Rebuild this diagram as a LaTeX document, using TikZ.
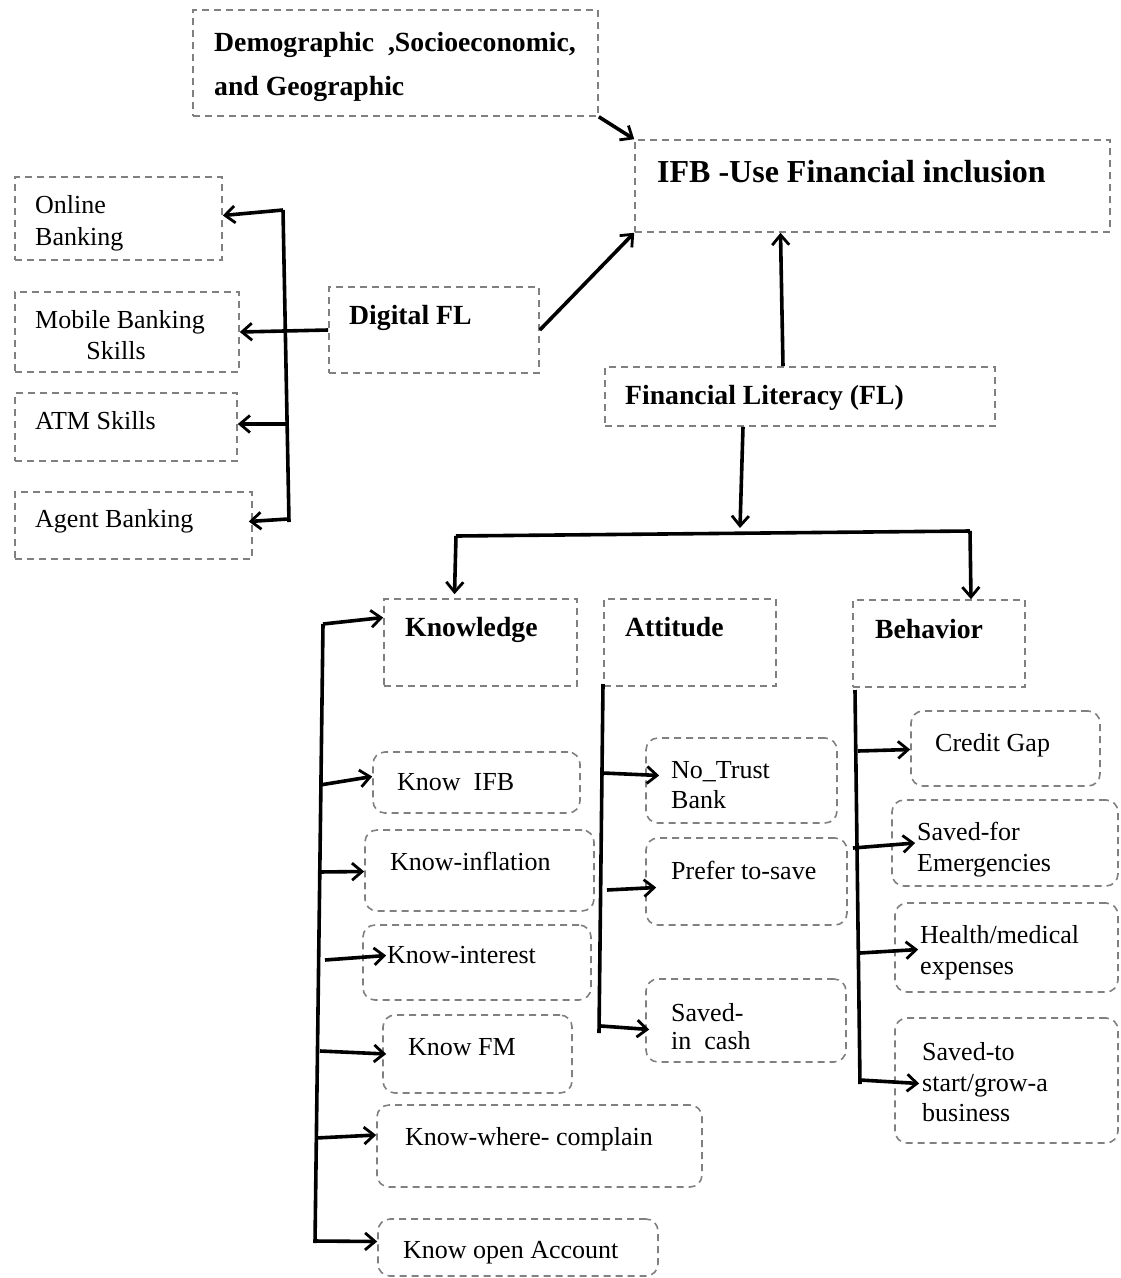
\documentclass[tikz,border=0pt]{standalone}
\usepackage{fontspec}
\setmainfont{Liberation Serif}
\usetikzlibrary{arrows.meta,calc}
\definecolor{dashgray}{RGB}{128,128,128}
\newcommand\mybox[6][]{\node[dbox,#1,minimum width={#4-#2},minimum height={#5-#3}] (#6) at ({(#2+#4)/2},{(#3+#5)/2}) {};}
\begin{document}
\begin{tikzpicture}[x=1pt,y=-1pt,
  dbox/.style={draw=dashgray,line width=1.6pt,dash pattern=on 7pt off 5pt,inner sep=0pt},
  rbox/.style={rounded corners=12pt},
  txt/.style={inner sep=0pt,anchor=base west,font=\fontsize{26}{30}\selectfont},
  btxt/.style={inner sep=0pt,anchor=base west,font=\bfseries\fontsize{27.7}{33}\selectfont},
  conn/.style={line width=3.6pt,black},
  arr/.style={conn,-{Straight Barb[length=10pt,width=17pt,line width=2.8pt]}}]
\useasboundingbox (0,0) rectangle (1120,1278);
% boxes
\mybox{193}{10}{598}{116}{demo}
\mybox{635}{140}{1110}{232}{ifb}
\mybox{15}{177}{222}{260}{online}
\mybox{15}{292}{239}{372}{mobile}
\mybox{15}{393}{237}{461}{atm}
\mybox{15}{492}{252}{559}{agent}
\mybox{329}{287}{539}{373}{dig}
\mybox{605}{367}{995}{426}{fl}
\mybox{384}{599}{577}{686}{know}
\mybox{604}{599}{776}{686}{att}
\mybox{853}{600}{1025}{687}{beh}
\mybox[rbox]{373}{752}{580}{813}{kifb}
\mybox[rbox]{365}{830}{594}{911}{kinf}
\mybox[rbox]{363}{925}{591}{1000}{kint}
\mybox[rbox]{383}{1015}{572}{1093}{kfm}
\mybox[rbox]{377}{1105}{702}{1187}{kwc}
\mybox[rbox]{378}{1219}{658}{1276}{koa}
\mybox[rbox]{646}{738}{837}{823}{ntb}
\mybox[rbox]{646}{838}{847}{925}{pts}
\mybox[rbox]{646}{979}{846}{1062}{sic}
\mybox[rbox]{911}{711}{1100}{786}{cg}
\mybox[rbox]{892}{800}{1118}{886}{sfe}
\mybox[rbox]{895}{903}{1118}{992}{hme}
\mybox[rbox]{895}{1018}{1118}{1143}{sts}
% texts
\node[btxt] (tdemo1) at (214,51) {Demographic\ \ ,Socioeconomic,};
\node[btxt] (tdemo2) at (214,95) {and Geographic};
\node[btxt,font=\bfseries\fontsize{32}{38}\selectfont] (tifb) at (657,182) {IFB -Use Financial inclusion};
\node[txt] (tonl1) at (35,213) {Online};
\node[txt] (tonl2) at (35,245) {Banking};
\node[txt] (tmob1) at (35,328) {Mobile Banking};
\node[txt,anchor=base] (tmob2) at (116,359) {Skills};
\node[txt] (tatm) at (35,429) {ATM Skills};
\node[txt] (tagt) at (35,527) {Agent Banking};
\node[btxt] (tdig) at (349,324) {Digital FL};
\node[btxt] (tfl) at (625,404) {Financial Literacy (FL)};
\node[btxt] (tknow) at (405,636) {Knowledge};
\node[btxt] (tatt) at (625,636) {Attitude};
\node[btxt] (tbeh) at (875,638) {Behavior};
\node[txt] (tkifb) at (397,790) {Know\ \ IFB};
\node[txt] (tkinf) at (390,870) {Know-inflation};
\node[txt] (tkint) at (387,963) {Know-interest};
\node[txt] (tkfm) at (408,1055) {Know FM};
\node[txt] (tkwc) at (405,1145) {Know-where- complain};
\node[txt] (tkoa) at (403,1258) {Know open Account};
\node[txt] (tntb1) at (671,778) {No\_Trust};
\node[txt] (tntb2) at (671,808) {Bank};
\node[txt] (tpts) at (671,879) {Prefer to-save};
\node[txt] (tsic1) at (671,1021) {Saved-};
\node[txt] (tsic2) at (671,1049) {in\ \ cash};
\node[txt] (tcg) at (935,751) {Credit Gap};
\node[txt] (tsfe1) at (917,840) {Saved-for};
\node[txt] (tsfe2) at (917,871) {Emergencies};
\node[txt] (thme1) at (920,943) {Health/medical};
\node[txt] (thme2) at (920,974) {expenses};
\node[txt] (tsts1) at (922,1060) {Saved-to};
\node[txt] (tsts2) at (922,1091) {start/grow-a};
\node[txt] (tsts3) at (922,1121) {business};
% top connectors
\draw[arr] (demo.south east) -- (ifb.north west);
\draw[arr] (dig.east) -- (ifb.south west);
\draw[arr] ($(fl.north)+(-17,0)$) -- ($(ifb.south)+(-92,0)$);
\coordinate (flend) at (740,528);
\draw[arr] ($(fl.south)+(-57,0)$) -- (flend);
\coordinate (barL) at (456,536);
\coordinate (barR) at (970,531);
\draw[conn] (barL) -- (barR);
\draw[arr] (barL) -- ($(know.north)+(-26,-4)$);
\draw[arr] (barR) -- ($(beh.north)+(32,0)$);
% digital bracket
\coordinate (dtop) at (283,210);
\coordinate (dbot) at (289,522);
\coordinate (datm) at (287,424);
\coordinate (dagt) at (288,519);
\draw[conn] (dtop) -- (dbot);
\draw[arr] (dtop) -- ($(online.east)+(0,-3)$);
\draw[arr] (dig.west) -- (mobile.east);
\draw[arr] (datm) -- ($(atm.east)+(0,-3)$);
\draw[arr] (dagt) -- ($(agent.east)+(-4,-4)$);
% knowledge bracket
\coordinate (ktop) at (323,624);
\coordinate (kbot) at (315,1243);
\coordinate (k1) at (320,785);
\coordinate (k2) at (318,872);
\coordinate (k3) at (325,960);
\coordinate (k4) at (320,1051);
\coordinate (k5) at (316,1138);
\coordinate (k6) at (314,1241);
\draw[conn] (ktop) -- (kbot);
\draw[arr] (ktop) -- ($(know.west)+(0,-25)$);
\draw[arr] (k1) -- ($(kifb.west)+(0,-6)$);
\draw[arr] (k2) -- ($(kinf.west)+(0,1)$);
\draw[arr] (k3) -- ($(kint.west)+(24,-7)$);
\draw[arr] (k4) -- ($(kfm.west)+(4,0)$);
\draw[arr] (k5) -- ($(kwc.west)+(0,-11)$);
\draw[arr] (k6) -- ($(koa.west)+(0,-6)$);
% attitude bracket
\coordinate (atop) at (603,684);
\coordinate (abot) at (599,1033);
\coordinate (a1) at (603,773);
\coordinate (a2) at (607,890);
\coordinate (a3) at (601,1026);
\draw[conn] (atop) -- (abot);
\draw[arr] (a1) -- ($(ntb.west)+(14,-5)$);
\draw[arr] (a2) -- ($(pts.west)+(11,6)$);
\draw[arr] (a3) -- ($(sic.west)+(4,9)$);
% behavior bracket
\coordinate (btop) at (855,690);
\coordinate (bbot) at (860,1084);
\coordinate (b1) at (858,751);
\coordinate (b2) at (853,848);
\coordinate (b3) at (860,953);
\coordinate (b4) at (860,1080);
\draw[conn] (btop) -- (bbot);
\draw[arr] (b1) -- ($(cg.west)+(0,1)$);
\draw[arr] (b2) -- ($(sfe.west)+(24,0)$);
\draw[arr] (b3) -- ($(hme.west)+(24,2)$);
\draw[arr] (b4) -- ($(sts.west)+(25,3)$);
\end{tikzpicture}
\end{document}
